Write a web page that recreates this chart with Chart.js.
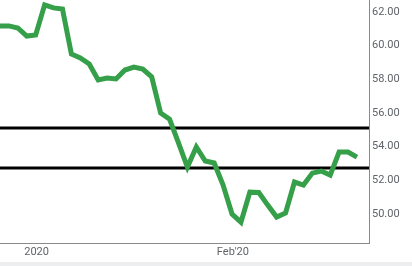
<!DOCTYPE html>
<html>
<head>
<meta charset="utf-8">
<script src="https://cdn.jsdelivr.net/npm/chart.js@4/dist/chart.umd.min.js"></script>
<style>
  html, body { margin: 0; padding: 0; background: #eceef0; }
  #wrap { width: 412px; height: 262px; background: #fff; position: relative; }
</style>
</head>
<body>
<div id="wrap"><canvas id="myChart" width="412" height="262"></canvas></div>
<script>
// daily closes
var closes = [
    61.17, 61.17, 61.05, 60.57, 60.63, 62.42, 62.24, 62.18, 59.50, 59.27,
    58.91, 57.96, 58.08, 58.02, 58.55, 58.73, 58.61, 58.14, 56.00, 55.64,
    54.22, 52.79, 53.98, 53.15, 53.03, 51.72, 50.00, 49.52, 51.30, 51.28,
    50.53, 49.82, 50.06, 51.90, 51.72, 52.43, 52.55, 52.31, 53.68, 53.68,
    53.38
];
var levels = [55.11, 52.73];
var tickPositions = [4.1, 26.1];
var tickLabels = ['2020', "Feb'20"];
var yTicks = [50, 52, 54, 56, 58, 60, 62];

var xMin = 0, xMax = 41.35;

var linePoints = closes.map(function (v, i) { return { x: i, y: v }; });

var datasets = levels.map(function (lv) {
    return {
        data: [{ x: xMin, y: lv }, { x: xMax, y: lv }],
        borderColor: '#000',
        borderWidth: 3,
        pointRadius: 0,
        order: 2
    };
});
datasets.push({
    data: linePoints,
    borderColor: '#35a049',
    borderWidth: 5,
    pointRadius: 0,
    borderJoinStyle: 'miter',
    tension: 0,
    order: 1
});

// no extra padding around the plot, the marks go right to the edges
function noPadding(scale) {
    scale.paddingTop = 0;
    scale.paddingBottom = 0;
    scale.paddingLeft = 0;
    scale.paddingRight = 0;
}

var ctx = document.getElementById('myChart').getContext('2d');
var myChart = new Chart(ctx, {
    type: 'line',
    data: { datasets: datasets },
    options: {
        responsive: false,
        animation: false,
        layout: { padding: 0 },
        plugins: { legend: { display: false }, tooltip: { enabled: false } },
        scales: {
            x: {
                type: 'linear',
                min: xMin,
                max: xMax,
                grid: { display: false, drawTicks: false },
                border: { color: '#8a8a8a', width: 1 },
                afterBuildTicks: function (scale) {
                    scale.ticks = tickPositions.map(function (p) { return { value: p }; });
                },
                afterFit: function (scale) { scale.height = 19; noPadding(scale); },
                ticks: {
                    autoSkip: false,
                    maxRotation: 0,
                    padding: 3,
                    color: '#5f6368',
                    font: { family: 'Roboto', size: 11 },
                    callback: function (value, index) { return tickLabels[index]; }
                }
            },
            y: {
                position: 'right',
                min: 48.28,
                max: 62.71,
                grid: { display: false, drawTicks: false },
                border: { color: '#8a8a8a', width: 1 },
                afterBuildTicks: function (scale) {
                    scale.ticks = yTicks.map(function (v) { return { value: v }; });
                },
                afterFit: function (scale) { scale.width = 43; noPadding(scale); },
                ticks: {
                    padding: 3,
                    color: '#5f6368',
                    font: { family: 'Roboto', size: 11 },
                    callback: function (value) { return value.toFixed(2); }
                }
            }
        }
    }
});
</script>
</body>
</html>
